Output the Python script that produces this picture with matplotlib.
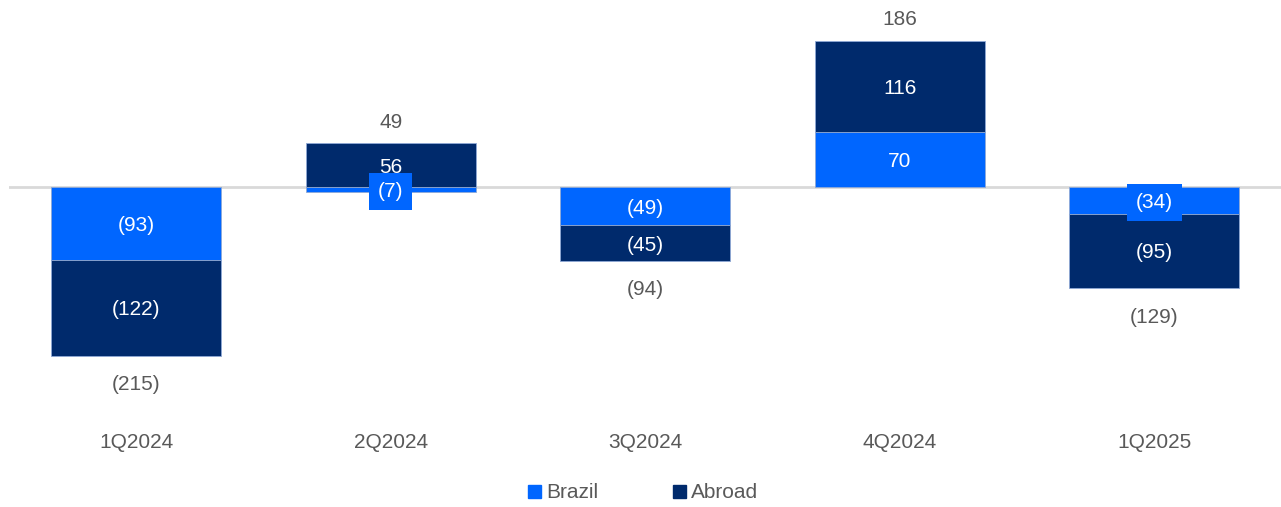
import matplotlib
matplotlib.use("Agg")
import matplotlib.pyplot as plt
from matplotlib.patches import Patch
import matplotlib.transforms as mtransforms

plt.rcParams['font.family'] = ['Liberation Sans', 'DejaVu Sans']

quarters = ["1Q2024", "2Q2024", "3Q2024", "4Q2024", "1Q2025"]
brazil = [-93, -7, -49, 70, -34]
abroad = [-122, 56, -45, 116, -95]
totals = [-215, 49, -94, 186, -129]

BRAZIL_C = "#0066FF"
ABROAD_C = "#002A6C"
TEXT_C = "#595959"
FS = 15

W, H = 1281, 507
fig = plt.figure(figsize=(W / 100, H / 100), dpi=100)
# axes in pixel-derived figure coordinates
left, right, top, bottom = 9, 1281.5, 10, 420
ax = fig.add_axes([left / W, 1 - bottom / H, (right - left) / W, (bottom - top) / H])
scale = 0.785  # px per unit
zero_px = 187
ax.set_xlim(-0.5, len(quarters) - 0.5)
ax.set_ylim(-(bottom - zero_px) / scale, (zero_px - top) / scale)
ax.axis("off")

ax.axhline(0, color="#D9D9D9", lw=2, zorder=1)

x = list(range(len(quarters)))
bw = 0.668


def fmt(v):
    return f"({abs(v)})" if v < 0 else f"{v}"


for i in x:
    b, a = brazil[i], abroad[i]
    pos_base, neg_base = 0, 0
    segs = []
    for val, col in ((b, BRAZIL_C), (a, ABROAD_C)):
        if val >= 0:
            base = pos_base
            pos_base += val
        else:
            base = neg_base
            neg_base += val
        ax.bar(i, val, bw, bottom=base, color=col, edgecolor="#8FA9D6",
               linewidth=0.6, zorder=2)
        segs.append((val, base, col))
    for val, base, col in segs:
        small = abs(val) < 40
        bbox = dict(boxstyle="square,pad=0.42", fc=col, ec="none") if small else None
        ax.text(i, base + val / 2, fmt(val), ha="center", va="center_baseline",
                color="white", fontsize=FS, bbox=bbox, zorder=4)
    tot = totals[i]
    if tot >= 0:
        ax.annotate(fmt(tot), (i, pos_base), xytext=(0, 23), textcoords="offset pixels",
                    ha="center", va="center_baseline", color=TEXT_C, fontsize=FS)
    else:
        ax.annotate(fmt(tot), (i, neg_base), xytext=(0, -27), textcoords="offset pixels",
                    ha="center", va="center_baseline", color=TEXT_C, fontsize=FS)

# category labels
trans = mtransforms.blended_transform_factory(ax.transData, fig.transFigure)
for i, q in enumerate(quarters):
    ax.text(i, 1 - 441 / H, q, transform=trans, ha="center", va="center_baseline",
            color=TEXT_C, fontsize=FS, clip_on=False)

handles = [Patch(color=BRAZIL_C, label="Brazil"), Patch(color=ABROAD_C, label="Abroad")]
fig.legend(handles=handles, loc="center", bbox_to_anchor=(643 / W, 1 - 493 / H),
           ncol=2, frameon=False, fontsize=FS, handlelength=0.6, handleheight=0.6,
           handletextpad=0.25, columnspacing=3.6, labelcolor=TEXT_C)

fig.savefig("out.png", dpi=100)
